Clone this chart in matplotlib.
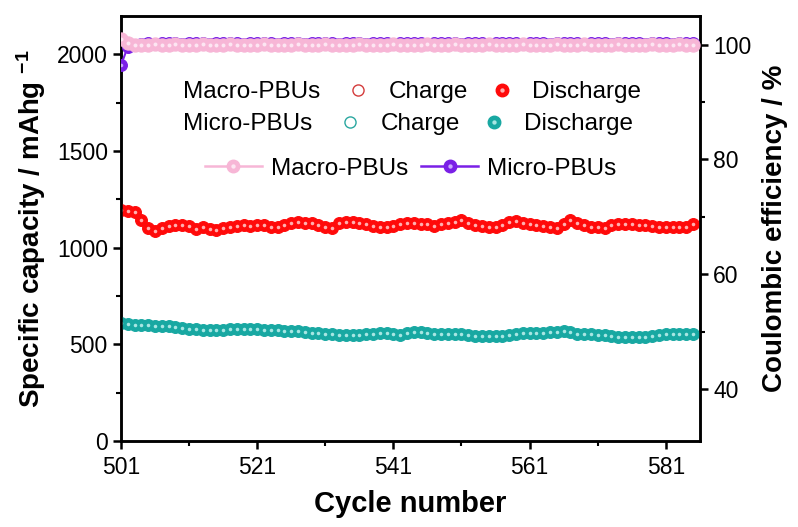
import numpy as np
import matplotlib
matplotlib.use("Agg")
import matplotlib.pyplot as plt
from matplotlib.lines import Line2D
from matplotlib.legend_handler import HandlerTuple
from matplotlib.ticker import MultipleLocator

plt.rcParams['font.family'] = ['Liberation Sans', 'DejaVu Sans']
plt.rcParams['mathtext.default'] = 'regular'

# cycle window 501..585
cycles = np.arange(501, 586)

# discharge capacity, mAh/g
macro_discharge = [
    1194, 1189, 1184, 1142, 1104, 1088, 1100, 1112, 1116, 1116,
    1113, 1097, 1109, 1099, 1094, 1103, 1110, 1114, 1120, 1114,
    1120, 1116, 1110, 1110, 1116, 1127, 1131, 1129, 1126, 1118,
    1106, 1104, 1128, 1132, 1131, 1127, 1122, 1114, 1109, 1108,
    1115, 1125, 1128, 1126, 1124, 1121, 1113, 1125, 1130, 1133,
    1142, 1128, 1120, 1112, 1108, 1110, 1116, 1132, 1136, 1130,
    1124, 1120, 1114, 1110, 1104, 1122, 1144, 1128, 1116, 1110,
    1105, 1100, 1116, 1122, 1124, 1122, 1120, 1118, 1114, 1110,
    1106, 1108, 1106, 1110, 1122,
]
micro_discharge = [
    611, 604, 602, 600, 598, 597, 595, 593, 590, 586,
    582, 578, 575, 574, 574, 576, 578, 580, 580, 579,
    578, 577, 575, 573, 572, 571, 568, 564, 560, 558,
    556, 553, 549, 548, 548, 549, 552, 556, 558, 558,
    555, 550, 560, 565, 563, 558, 556, 556, 555, 556,
    555, 550, 546, 543, 542, 542, 543, 548, 556, 559,
    560, 560, 559, 562, 566, 569, 562, 556, 553, 552,
    550, 548, 543, 540, 539, 538, 538, 540, 542, 550,
    555, 556, 556, 555, 554,
]

# coulombic efficiency, %
macro_ce = [
    101.0, 100.2, 100.0, 99.9, 100.0, 100.1, 99.9, 100.0, 100.1, 100.0,
    99.9, 100.0, 100.1, 100.0, 99.9, 100.0, 100.1, 100.0, 100.0, 99.9,
    100.0, 100.1, 100.0, 99.9, 100.0, 100.0, 100.1, 100.0, 99.9, 100.0,
    100.1, 100.0, 100.0, 99.9, 100.0, 100.1, 100.0, 100.0, 99.9, 100.0,
    100.1, 100.0, 99.9, 100.0, 100.0, 100.1, 100.0, 99.9, 100.0, 100.1,
    100.0, 100.0, 99.9, 100.0, 100.1, 100.0, 100.0, 99.9, 100.0, 100.1,
    100.0, 99.9, 100.0, 100.0, 100.1, 100.0, 99.9, 100.0, 100.1, 100.0,
    100.0, 99.9, 100.0, 100.1, 100.0, 100.0, 99.9, 100.0, 100.1, 100.0,
    99.9, 100.0, 100.1, 100.0, 100.0,
]
micro_ce = [
    96.4, 99.6, 99.9, 100.1, 100.2, 100.1, 100.2, 100.3, 100.2, 100.1,
    100.2, 100.3, 100.2, 100.1, 100.2, 100.2, 100.3, 100.2, 100.1, 100.2,
    100.3, 100.2, 100.2, 100.1, 100.2, 100.3, 100.2, 100.1, 100.2, 100.3,
    100.2, 100.2, 100.1, 100.2, 100.3, 100.2, 100.1, 100.2, 100.3, 100.2,
    100.1, 100.2, 100.2, 100.3, 100.2, 100.1, 100.2, 100.3, 100.2, 100.2,
    100.1, 100.2, 100.3, 100.2, 100.1, 100.2, 100.3, 100.2, 100.2, 100.1,
    100.2, 100.3, 100.2, 100.1, 100.2, 100.3, 100.2, 100.2, 100.1, 100.2,
    100.3, 100.2, 100.1, 100.2, 100.3, 100.2, 100.2, 100.1, 100.2, 100.3,
    100.2, 100.1, 100.2, 100.2, 100.3,
]

RED, RED_HI = '#ff0a0a', '#ffb0b0'
TEAL, TEAL_HI = '#18a8a2', '#a8e6e3'
PINK, PINK_HI = '#f7b6d6', '#fde6f2'
PURPLE, PURPLE_HI = '#7a20e6', '#c9a8ff'


def ball(ax, x, y, color, hi, ms=8.5, line=True, lw=1.5, z=3):
    ls = '-' if line else 'none'
    ax.plot(x, y, ls=ls, lw=lw, color=color, marker='o', ms=ms,
            mfc=color, mec=color, mew=0.8, zorder=z)
    ax.plot(x, y, ls='none', marker='o', ms=ms * 0.3, mfc=hi, mec='none',
            zorder=z + 0.1)


def ball_handle(color, hi, ms=9.0, line=False):
    ls = '-' if line else 'none'
    big = Line2D([], [], ls=ls, lw=1.8, color=color, marker='o', ms=ms,
                 mfc=color, mec=color)
    small = Line2D([], [], ls='none', marker='o', ms=ms * 0.35, mfc=hi, mec='none')
    return (big, small)


fig = plt.figure(figsize=(7.98, 5.27), dpi=100)
ax = fig.add_axes([0.1516, 0.163, 0.7254, 0.807])
ax2 = ax.twinx()

ball(ax, cycles, macro_discharge, RED, RED_HI)
ball(ax, cycles, micro_discharge, TEAL, TEAL_HI)
ball(ax2, cycles, micro_ce, PURPLE, PURPLE_HI, z=3)
ball(ax2, cycles, macro_ce, PINK, PINK_HI, ms=9.5, z=4)

ax.set_xlim(501, 586)
ax.set_ylim(0, 2200)
ax2.set_ylim(31, 105)

ax.set_xticks([501, 521, 541, 561, 581])
ax.set_xticks([511, 531, 551, 571], minor=True)
ax.yaxis.set_major_locator(MultipleLocator(500))
ax.yaxis.set_minor_locator(MultipleLocator(250))
ax2.set_yticks([40, 60, 80, 100])
ax2.set_yticks([50, 70, 90], minor=True)

for a in (ax, ax2):
    for s in a.spines.values():
        s.set_linewidth(1.8)
    a.tick_params(which='major', length=6, width=1.8, labelsize=16.5, direction='out')
    a.tick_params(which='minor', length=3.5, width=1.5, direction='out')
ax.tick_params(axis='x', pad=5)

ax.set_xlabel('Cycle number', fontsize=21, fontweight='bold', labelpad=8)
ax.set_ylabel('Specific capacity / mAhg $^{-1}$', fontsize=20, labelpad=6)
ax2.set_ylabel('Coulombic efficiency / %', fontsize=20, labelpad=8)
ax.yaxis.label.set_fontweight('bold')
ax2.yaxis.label.set_fontweight('bold')

# legend block: two capacity rows and one efficiency row
fs = 17.5
hollow_red = Line2D([], [], ls='none', marker='o', ms=8, mfc='white', mec='#d43c3c', mew=1.0)
hollow_teal = Line2D([], [], ls='none', marker='o', ms=8, mfc='white', mec='#2aa7a0', mew=1.0)

ax.text(0.107, 0.8206, 'Macro-PBUs', transform=ax.transAxes, fontsize=fs,
        va='center', ha='left')
ax.text(0.107, 0.745, 'Micro-PBUs', transform=ax.transAxes, fontsize=fs,
        va='center', ha='left')

row_kw = dict(frameon=False, ncol=2, loc='center left', fontsize=fs,
              borderpad=0, borderaxespad=0, handlelength=1.0,
              handletextpad=0.75, columnspacing=0.9,
              handler_map={tuple: HandlerTuple(ndivide=1)})
leg1 = ax.legend([hollow_red, ball_handle(RED, RED_HI)], ['Charge', 'Discharge'],
                 bbox_to_anchor=(0.389, 0.8206), **row_kw)
ax.add_artist(leg1)
leg2 = ax.legend([hollow_teal, ball_handle(TEAL, TEAL_HI)], ['Charge', 'Discharge'],
                 bbox_to_anchor=(0.375, 0.745), **row_kw)
ax.add_artist(leg2)
leg3 = ax.legend([ball_handle(PINK, PINK_HI, line=True),
                  ball_handle(PURPLE, PURPLE_HI, line=True)],
                 ['Macro-PBUs', 'Micro-PBUs'], frameon=False, ncol=2,
                 loc='center left', fontsize=fs, borderpad=0, borderaxespad=0,
                 handlelength=2.35, handletextpad=0.35, columnspacing=0.55,
                 bbox_to_anchor=(0.145, 0.64),
                 handler_map={tuple: HandlerTuple(ndivide=1)})

fig.savefig('out.png', dpi=100)
